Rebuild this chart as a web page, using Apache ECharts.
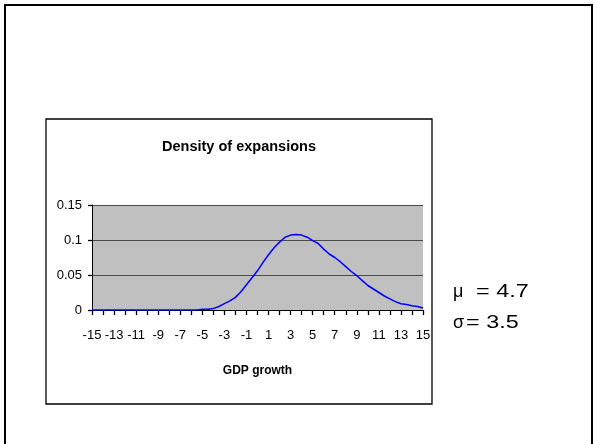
<!DOCTYPE html>
<html>
<head>
<meta charset="utf-8">
<script src="https://cdn.jsdelivr.net/npm/echarts@6/dist/echarts.min.js"></script>
<style>
html,body{margin:0;padding:0;background:#fff;}
#chart{width:594px;height:444px;}
</style>
</head>
<body>
<div id="chart"></div>
<script>
// GDP growth grid (x) and density of expansions (y)
var gdpGrowth = [-15,-14.5,-14,-13.5,-13,-12.5,-12,-11.5,-11,-10.5,-10,-9.5,-9,-8.5,-8,-7.5,-7,-6.5,-6,-5.5,
  -5,-4.5,-4,-3.5,-3,-2.5,-2,-1.5,-1,-0.5,0,0.5,1,1.5,2,2.5,3,3.5,4,4.5,5,5.5,6,6.5,7,7.5,8,8.5,9,9.5,
  10,10.5,11,11.5,12,12.5,13,13.5,14,14.5,15];
var density = [0,0,0,0,0,0,0,0,0,0,0,0,0,0,0,0,0,0,0,0,
  0.001,0.001,0.002,0.005,0.009,0.013,0.018,0.026,0.036,0.046,0.056,0.068,0.079,0.089,0.097,0.104,0.107,0.108,0.107,0.104,
  0.099,0.095,0.087,0.080,0.075,0.069,0.062,0.055,0.049,0.042,
  0.035,0.030,0.025,0.020,0.016,0.012,0.009,0.008,0.006,0.005,0.003];
var yTicks = [0, 0.05, 0.1, 0.15];
var chartTitle = 'Density of expansions';
var xName = 'GDP growth';
var muText = '= 4.7';
var sigmaText = '= 3.5';

var seriesData = gdpGrowth.map(function (x, i) { return [x, density[i]]; });

var FONT = "'Liberation Sans', Arial, sans-serif";
var chart = echarts.init(document.getElementById('chart'));
chart.setOption({
  animation: false,
  backgroundColor: '#ffffff',
  title: {
    text: chartTitle,
    left: 239, top: 139, padding: 0, textAlign: 'center',
    textStyle: { fontFamily: FONT, fontSize: 14.5, fontWeight: 'bold', color: '#000' }
  },
  grid: {
    left: 92, right: 171, top: 205, bottom: 134,
    show: true, backgroundColor: '#C0C0C0', borderWidth: 0
  },
  xAxis: {
    type: 'value', min: -15, max: 15, interval: 1,
    name: xName, nameLocation: 'middle', nameGap: 55,
    nameTextStyle: { fontFamily: FONT, fontSize: 12, fontWeight: 'bold', color: '#000' },
    axisLine: { show: true, onZero: false, lineStyle: { color: '#000', width: 1 } },
    axisTick: { show: true, inside: false, length: 5, lineStyle: { color: '#000', width: 1.3 } },
    splitLine: { show: false },
    axisLabel: {
      margin: 19, color: '#000', fontSize: 13, fontFamily: FONT,
      formatter: function (v) { return Math.abs(v) % 2 === 1 ? String(v) : ''; }
    }
  },
  yAxis: {
    type: 'value', min: yTicks[0], max: yTicks[yTicks.length - 1], interval: 0.05,
    axisLine: { show: true, onZero: false, lineStyle: { color: '#000', width: 1 } },
    axisTick: { show: true, inside: false, length: 4, lineStyle: { color: '#000', width: 1.3 } },
    splitLine: { show: true, lineStyle: { color: '#4a4a4a', width: 1 } },
    axisLabel: { margin: 10, color: '#000', fontSize: 13, fontFamily: FONT }
  },
  series: [{
    type: 'line',
    data: seriesData,
    showSymbol: false,
    lineStyle: { color: '#0000FF', width: 1.5 },
    itemStyle: { color: '#0000FF' },
    z: 3
  }],
  graphic: [
    { type: 'rect', shape: { x: 5, y: 5, width: 587, height: 460 }, style: { fill: 'none', stroke: '#000', lineWidth: 2 }, silent: true },
    { type: 'rect', shape: { x: 46, y: 119, width: 386, height: 285 }, style: { fill: 'none', stroke: '#000', lineWidth: 1.3 }, silent: true },
    { type: 'text', x: 453, y: 292, style: { text: 'μ', font: "18px 'Liberation Sans', Arial", fill: '#000', verticalAlign: 'middle' } },
    { type: 'text', x: 476, y: 292, scaleX: 1.3, style: { text: muText, font: "18px 'Liberation Sans', Arial", fill: '#000', verticalAlign: 'middle' } },
    { type: 'text', x: 453, y: 323, style: { text: 'σ', font: "18px 'Liberation Sans', Arial", fill: '#000', verticalAlign: 'middle' } },
    { type: 'text', x: 466, y: 323, scaleX: 1.3, style: { text: sigmaText, font: "18px 'Liberation Sans', Arial", fill: '#000', verticalAlign: 'middle' } }
  ]
});
</script>
</body>
</html>
